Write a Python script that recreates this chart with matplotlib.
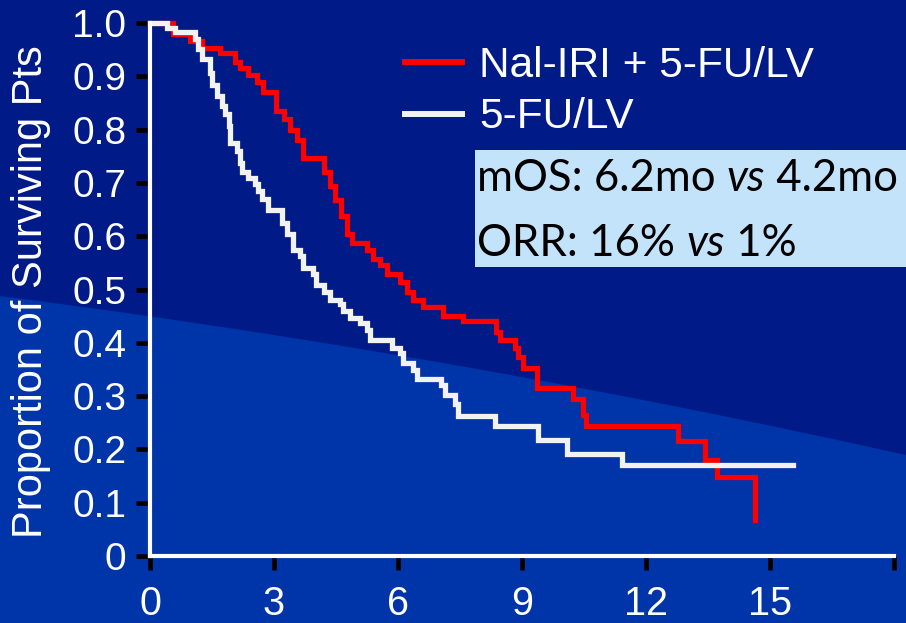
import numpy as np
import matplotlib.pyplot as plt
from matplotlib.patches import Polygon, Rectangle
from matplotlib.lines import Line2D
from matplotlib.offsetbox import TextArea, HPacker, VPacker, AnnotationBbox

# Kaplan-Meier steps: month of each drop and the proportion surviving after it
nal_months = [0, 0.56, 0.97, 1.25, 1.69, 2.06, 2.18, 2.38, 2.58, 2.74, 3.06,
              3.23, 3.39, 3.55, 3.71, 4.2, 4.35, 4.47, 4.63, 4.76, 4.88, 5.24,
              5.4, 5.56, 5.73, 6.05, 6.21, 6.37, 6.6, 7.1, 7.58, 8.38, 8.46,
              8.83, 8.91, 9.03, 9.36, 10.24, 10.48, 10.56, 12.78, 13.43, 13.71,
              14.64]
nal_surv = [1.0, 0.98, 0.966, 0.953, 0.944, 0.926, 0.916, 0.903, 0.89, 0.87,
            0.834, 0.82, 0.80, 0.78, 0.747, 0.72, 0.694, 0.668, 0.637, 0.605,
            0.587, 0.574, 0.558, 0.546, 0.53, 0.515, 0.496, 0.48, 0.468, 0.45,
            0.441, 0.421, 0.405, 0.39, 0.374, 0.352, 0.315, 0.294, 0.264,
            0.243, 0.215, 0.181, 0.148, 0.068]

fu_months = [0, 0.40, 0.60, 1.09, 1.17, 1.25, 1.45, 1.49, 1.61, 1.73, 1.81,
             1.90, 1.94, 2.10, 2.18, 2.22, 2.38, 2.54, 2.62, 2.70, 2.86, 3.19,
             3.31, 3.47, 3.63, 3.71, 3.95, 4.02, 4.2, 4.36, 4.6, 4.68, 4.84,
             5.08, 5.24, 5.32, 5.85, 6.05, 6.13, 6.37, 6.45, 7.05, 7.14, 7.38,
             7.45, 8.35, 9.39, 10.08, 11.41, 15.55]
fu_surv = [1.0, 0.99, 0.983, 0.97, 0.952, 0.932, 0.906, 0.884, 0.863, 0.844,
           0.83, 0.806, 0.775, 0.76, 0.738, 0.72, 0.709, 0.697, 0.684, 0.669,
           0.65, 0.625, 0.605, 0.575, 0.562, 0.54, 0.53, 0.508, 0.496, 0.48,
           0.472, 0.459, 0.446, 0.437, 0.424, 0.406, 0.39, 0.381, 0.362, 0.349,
           0.333, 0.321, 0.302, 0.285, 0.263, 0.243, 0.217, 0.191, 0.171, 0.171]

series_names = ['Nal-IRI + 5-FU/LV', '5-FU/LV']
series_colors = ['#ff0000', '#f2f2f2']

x_ticks = [0, 3, 6, 9, 12, 15, 18]
x_tick_labels = ['0', '3', '6', '9', '12', '15', '']
y_ticks = [0, 0.1, 0.2, 0.3, 0.4, 0.5, 0.6, 0.7, 0.8, 0.9, 1.0]
y_tick_labels = ['0', '0.1', '0.2', '0.3', '0.4', '0.5', '0.6', '0.7', '0.8',
                 '0.9', '1.0']

W, H = 906, 623
dark_blue = '#001a87'
mid_blue = '#0034a9'
box_blue = '#c3e3fb'

plt.rcParams['font.family'] = ['Liberation Sans', 'DejaVu Sans']

fig = plt.figure(figsize=(W / 100, H / 100), dpi=100)
fig.patch.set_facecolor(dark_blue)

# lighter sweep across the lower part of the slide
bx = np.linspace(0, W, 120)
by = 296 + 0.128 * bx + 5.25e-5 * bx ** 2
sweep = [(x / W, 1 - y / H) for x, y in zip(bx, by)] + [(1, 0), (0, 0)]
fig.add_artist(Polygon(sweep, closed=True, transform=fig.transFigure,
                       facecolor=mid_blue, edgecolor='none', zorder=-5))

ax = fig.add_axes([150 / W, 67 / H, (894 - 150) / W, (556 - 23) / H])
ax.patch.set_visible(False)

ax.step(nal_months, nal_surv, where='post', color=series_colors[0], lw=3.8,
        clip_on=False, solid_joinstyle='miter', zorder=3)
ax.step(fu_months, fu_surv, where='post', color=series_colors[1], lw=3.8,
        clip_on=False, solid_joinstyle='miter', zorder=4)

ax.set_xlim(0, 18)
ax.set_ylim(0, 1.0)
ax.set_xticks(x_ticks)
ax.set_xticklabels(x_tick_labels)
ax.set_yticks(y_ticks)
ax.set_yticklabels(y_tick_labels)

for side in ['top', 'right']:
    ax.spines[side].set_visible(False)
for side in ['left', 'bottom']:
    ax.spines[side].set_color('white')
    ax.spines[side].set_linewidth(3)
    ax.spines[side].set_zorder(5)

ax.tick_params(axis='both', direction='out', length=10, width=3.4,
               color='black', labelcolor='white')
ax.tick_params(axis='x', pad=11, labelsize=28.5)
ax.tick_params(axis='y', pad=7, labelsize=28)

fig.text(31 / W, 1 - 292 / H, 'Proportion of Surviving Pts', rotation=90,
         ha='center', va='center', color='white', fontsize=30)

handles = [Line2D([], [], color=c, lw=4.3) for c in series_colors]
leg = fig.legend(handles, series_names, loc='upper left',
                 bbox_to_anchor=(405 / W, 1 - 46 / H), frameon=False,
                 fontsize=30.5, handlelength=1.35, handletextpad=0.4,
                 labelspacing=0.27, borderpad=0, borderaxespad=0)
for t in leg.get_texts():
    t.set_color('white')

# summary box on the right
fig.add_artist(Rectangle((475 / W, 1 - 267 / H), (W - 475) / W, 117 / H,
                         transform=fig.transFigure, facecolor=box_blue,
                         edgecolor='none', zorder=6))


def stat_line(before, after):
    style = dict(color='black', fontsize=31.5, family='Lato')
    return HPacker(children=[TextArea(before, textprops=style),
                             TextArea('vs', textprops=dict(style, style='italic')),
                             TextArea(after, textprops=style)],
                   pad=0, sep=0, align='baseline')


stats = VPacker(children=[stat_line('mOS: 6.2mo ', ' 4.2mo'),
                          stat_line('ORR: 16% ', ' 1%')],
                pad=0, sep=17, align='left')
ab = AnnotationBbox(stats, (477, H - 211), xycoords='figure pixels',
                    box_alignment=(0, 0.5), frameon=False, zorder=7)
fig.add_artist(ab)

plt.savefig('out.png', dpi=100, facecolor=fig.get_facecolor())
